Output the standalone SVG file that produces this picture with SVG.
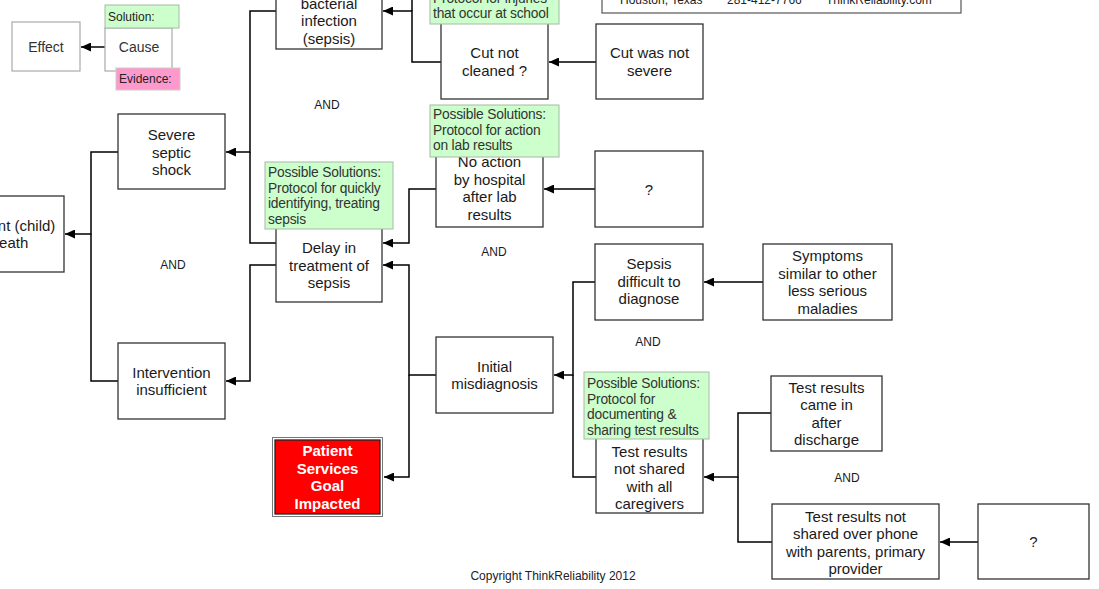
<svg xmlns="http://www.w3.org/2000/svg" width="1099" height="589" viewBox="0 0 1099 589">
<defs>
<marker id="arr" markerUnits="userSpaceOnUse" markerWidth="10" markerHeight="9" refX="10" refY="4.5" orient="auto">
<path d="M0,0 L10,4.5 L0,9 z" fill="#000"/>
</marker>
<style>
text{font-family:"Liberation Sans",Arial,sans-serif;}
.box{fill:#fff;stroke:#333;stroke-width:1.3;}
.lg{fill:#fff;stroke:#aaa;stroke-width:1.2;}
.t{font-size:15px;fill:#1a1a1a;text-anchor:middle;}
.lt{font-size:14px;fill:#333;text-anchor:middle;}
.sol{fill:#ccffcc;stroke:#a8b8a8;stroke-width:1;}
.st{font-size:13.8px;fill:#333;letter-spacing:-0.2px;}
.ev{fill:#ff99cc;stroke:#ccc;stroke-width:1;}
.and{font-size:12px;fill:#1a1a1a;text-anchor:middle;}
.c{fill:none;stroke:#000;stroke-width:1.5;}
.w{font-size:15px;font-weight:bold;fill:#fff;text-anchor:middle;}
</style>
</defs>
<rect width="1099" height="589" fill="#fff"/>

<g id="connectors">
<path class="c" d="M105,47 H81" marker-end="url(#arr)"/>
<path class="c" d="M276,11 H250 V152 H226" marker-end="url(#arr)"/>
<path class="c" d="M276,243 H250 V152"/>
<path class="c" d="M118,152 H91 V234 H65" marker-end="url(#arr)"/>
<path class="c" d="M118,381 H91 V234"/>
<path class="c" d="M276,265 H250 V381 H226" marker-end="url(#arr)"/>
<path class="c" d="M441,62 H412 V11 H383" marker-end="url(#arr)"/>
<path class="c" d="M412,11 V-10"/>
<path class="c" d="M596,62 H549" marker-end="url(#arr)"/>
<path class="c" d="M436,189 H409 V243 H383" marker-end="url(#arr)"/>
<path class="c" d="M436,375 H409 V265 H383" marker-end="url(#arr)"/>
<path class="c" d="M409,375 V477 H384" marker-end="url(#arr)"/>
<path class="c" d="M595,189 H544" marker-end="url(#arr)"/>
<path class="c" d="M595,282 H573 V375 H554" marker-end="url(#arr)"/>
<path class="c" d="M596,477 H573 V375"/>
<path class="c" d="M763,282 H704" marker-end="url(#arr)"/>
<path class="c" d="M771,413 H738 V477 H704" marker-end="url(#arr)"/>
<path class="c" d="M772,542 H738 V477"/>
<path class="c" d="M978,542 H940" marker-end="url(#arr)"/>
</g>

<g id="legend-effect">
<rect class="lg" x="12" y="22" width="68" height="49"/>
<text class="lt" x="46" y="52">Effect</text>
</g>
<g id="legend-cause">
<rect class="lg" x="105" y="28" width="67" height="43"/>
<text class="lt" x="139" y="52">Cause</text>
<rect class="sol" x="105" y="5" width="74" height="23"/>
<text x="108" y="21" style="font-size:12px;fill:#222">Solution:</text>
<rect class="ev" x="116" y="68" width="64" height="22"/>
<text x="119" y="83" style="font-size:12px;fill:#222">Evidence:</text>
</g>

<g id="header">
<rect x="602" y="-40" width="359" height="53" fill="#fff" stroke="#555" stroke-width="1.2"/>
<text x="620" y="4" style="font-size:12px;fill:#222">Houston,  Texas</text>
<text x="727" y="4" style="font-size:12px;fill:#222">281-412-7766</text>
<text x="826" y="4" style="font-size:12px;fill:#222">ThinkReliability.com</text>
</g>

<g id="bacterial-infection">
<rect class="box" x="276" y="-30" width="106" height="79"/>
<text class="t" x="329" y="8.5">bacterial</text>
<text class="t" x="329" y="26">infection</text>
<text class="t" x="329" y="43.5">(sepsis)</text>
</g>

<g id="cut-not-cleaned">
<rect class="box" x="441" y="20" width="107" height="79"/>
<text class="t" x="494.5" y="58">Cut not</text>
<text class="t" x="494.5" y="76">cleaned ?</text>
<rect class="sol" x="430" y="-36" width="129" height="60"/>
<text class="st" x="433" y="-13">Possible Solutions:</text>
<text class="st" x="433" y="2.5">Protocol for injuries</text>
<text class="st" x="433" y="18">that occur at school</text>
</g>

<g id="cut-not-severe">
<rect class="box" x="596" y="24" width="107" height="75"/>
<text class="t" x="649.5" y="58">Cut was not</text>
<text class="t" x="649.5" y="75.5">severe</text>
</g>

<g id="severe-septic-shock">
<rect class="box" x="118" y="114" width="107" height="75"/>
<text class="t" x="171.5" y="140">Severe</text>
<text class="t" x="171.5" y="157.5">septic</text>
<text class="t" x="171.5" y="175">shock</text>
</g>

<g id="patient-death">
<rect class="box" x="-45" y="196" width="109" height="76"/>
<text class="t" x="9.5" y="230.5">Patient (child)</text>
<text class="t" x="9.5" y="248">death</text>
</g>

<g id="intervention-insufficient">
<rect class="box" x="118" y="343" width="107" height="76"/>
<text class="t" x="171.5" y="377.5">Intervention</text>
<text class="t" x="171.5" y="395">insufficient</text>
</g>

<g id="delay-treatment">
<rect class="box" x="276" y="226" width="106" height="76"/>
<text class="t" x="329" y="253">Delay in</text>
<text class="t" x="329" y="270.5">treatment of</text>
<text class="t" x="329" y="288">sepsis</text>
<rect class="sol" x="265" y="162" width="128" height="67"/>
<text class="st" x="268" y="177">Possible Solutions:</text>
<text class="st" x="268" y="192.5">Protocol for quickly</text>
<text class="st" x="268" y="208">identifying, treating</text>
<text class="st" x="268" y="223.5">sepsis</text>
</g>

<g id="no-action">
<rect class="box" x="436" y="150" width="107" height="77"/>
<text class="t" x="489.5" y="167">No action</text>
<text class="t" x="489.5" y="184.5">by hospital</text>
<text class="t" x="489.5" y="202">after lab</text>
<text class="t" x="489.5" y="219.5">results</text>
<rect class="sol" x="430" y="105" width="129" height="52"/>
<text class="st" x="433" y="119">Possible Solutions:</text>
<text class="st" x="433" y="134.5">Protocol for action</text>
<text class="st" x="433" y="150">on lab results</text>
</g>

<g id="unknown-1">
<rect class="box" x="595" y="151" width="108" height="76"/>
<text class="t" x="649" y="195">?</text>
</g>

<g id="sepsis-difficult">
<rect class="box" x="595" y="244" width="108" height="76"/>
<text class="t" x="649" y="269">Sepsis</text>
<text class="t" x="649" y="286.5">difficult to</text>
<text class="t" x="649" y="304">diagnose</text>
</g>

<g id="symptoms-similar">
<rect class="box" x="763" y="244" width="129" height="76"/>
<text class="t" x="827.5" y="261">Symptoms</text>
<text class="t" x="827.5" y="278.5">similar to other</text>
<text class="t" x="827.5" y="296">less serious</text>
<text class="t" x="827.5" y="313.5">maladies</text>
</g>

<g id="initial-misdiagnosis">
<rect class="box" x="436" y="337" width="117" height="76"/>
<text class="t" x="494.5" y="371.5">Initial</text>
<text class="t" x="494.5" y="389">misdiagnosis</text>
</g>

<g id="patient-services-goal">
<rect x="272.5" y="437.5" width="110" height="79" fill="#fff" stroke="#777" stroke-width="1"/>
<rect x="275" y="440" width="105" height="74" fill="#ff0000" stroke="#222" stroke-width="1.3"/>
<text class="w" x="327.5" y="456">Patient</text>
<text class="w" x="327.5" y="473.5">Services</text>
<text class="w" x="327.5" y="491">Goal</text>
<text class="w" x="327.5" y="508.5">Impacted</text>
</g>

<g id="test-results-not-shared">
<rect class="box" x="596" y="437" width="107" height="76"/>
<text class="t" x="649.5" y="456.5">Test results</text>
<text class="t" x="649.5" y="474">not shared</text>
<text class="t" x="649.5" y="491.5">with all</text>
<text class="t" x="649.5" y="509">caregivers</text>
<rect class="sol" x="584" y="372" width="125" height="67"/>
<text class="st" x="587" y="388">Possible Solutions:</text>
<text class="st" x="587" y="403.5">Protocol for</text>
<text class="st" x="587" y="419">documenting &amp;</text>
<text class="st" x="587" y="434.5">sharing test results</text>
</g>

<g id="test-results-after-discharge">
<rect class="box" x="771" y="376" width="111" height="75"/>
<text class="t" x="826.5" y="392.5">Test results</text>
<text class="t" x="826.5" y="410">came in</text>
<text class="t" x="826.5" y="427.5">after</text>
<text class="t" x="826.5" y="445">discharge</text>
</g>

<g id="test-results-phone">
<rect class="box" x="772" y="504" width="167" height="75"/>
<text class="t" x="855.5" y="521.5">Test results not</text>
<text class="t" x="855.5" y="539">shared over phone</text>
<text class="t" x="855.5" y="556.5">with parents, primary</text>
<text class="t" x="855.5" y="574">provider</text>
</g>

<g id="unknown-2">
<rect class="box" x="978" y="504" width="111" height="75"/>
<text class="t" x="1033.5" y="547">?</text>
</g>

<g id="and-labels">
<text class="and" x="327" y="109">AND</text>
<text class="and" x="173" y="269">AND</text>
<text class="and" x="494" y="256">AND</text>
<text class="and" x="648" y="346">AND</text>
<text class="and" x="847" y="482">AND</text>
</g>

<text x="553" y="580" style="font-size:12px;fill:#222;text-anchor:middle">Copyright ThinkReliability  2012</text>
</svg>
